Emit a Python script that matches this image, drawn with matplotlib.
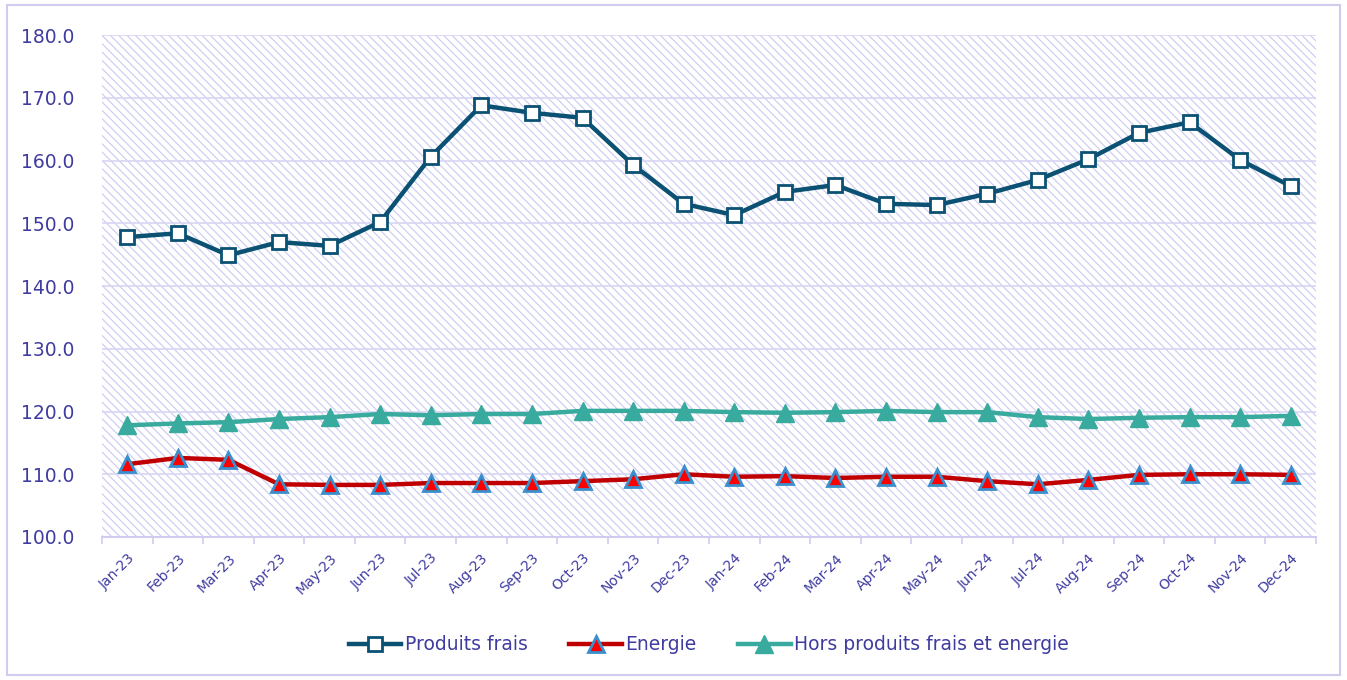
import matplotlib.pyplot as plt
from matplotlib.patches import Rectangle

months = ['Jan-23', 'Feb-23', 'Mar-23', 'Apr-23', 'May-23', 'Jun-23', 'Jul-23', 'Aug-23',
          'Sep-23', 'Oct-23', 'Nov-23', 'Dec-23', 'Jan-24', 'Feb-24', 'Mar-24', 'Apr-24',
          'May-24', 'Jun-24', 'Jul-24', 'Aug-24', 'Sep-24', 'Oct-24', 'Nov-24', 'Dec-24']

produits_frais = [147.8, 148.4, 144.9, 147.0, 146.4, 150.2, 160.6, 168.8, 167.6, 166.8, 159.3, 153.1,
                  151.3, 155.0, 156.1, 153.1, 152.9, 154.7, 156.9, 160.2, 164.4, 166.1, 160.1, 155.9]
energie = [111.6, 112.6, 112.3, 108.4, 108.3, 108.3, 108.6, 108.6, 108.6, 108.9, 109.2, 110.0,
           109.6, 109.7, 109.4, 109.6, 109.6, 108.9, 108.4, 109.1, 109.9, 110.0, 110.0, 109.9]
hors_pf_energie = [117.8, 118.1, 118.3, 118.8, 119.1, 119.6, 119.4, 119.6, 119.6, 120.1, 120.1, 120.1,
                   119.9, 119.8, 119.9, 120.1, 119.9, 119.9, 119.1, 118.8, 119.0, 119.1, 119.1, 119.3]

yticks = [100, 110, 120, 130, 140, 150, 160, 170, 180]

txt = '#3F3BA0'
lav = '#CFCCF0'

plt.rcParams['hatch.linewidth'] = 0.8

fig = plt.figure(figsize=(13.47, 6.8), dpi=100)
ax = fig.add_axes([0.0757, 0.2103, 0.9013, 0.7382])

# hatched plot area
ax.add_patch(Rectangle((0, 0), 1, 1, transform=ax.transAxes, facecolor='white',
                       edgecolor='#CBC9F2', hatch='\\\\\\\\', lw=0, zorder=0))

x = list(range(len(months)))
ax.plot(x, produits_frais, color='#0B5173', lw=3.2, marker='s', ms=10,
        mfc='white', mec='#0B5173', mew=2, label='Produits frais', zorder=3)
ax.plot(x, energie, color='#C00000', lw=3.2, marker='^', ms=11,
        mfc='#FF0000', mec='#3A8FCC', mew=2, label='Energie', zorder=3)
ax.plot(x, hors_pf_energie, color='#38AA9E', lw=3.2, marker='^', ms=13,
        mfc='#38AA9E', mec='#38AA9E', mew=1, label='Hors produits frais et energie', zorder=3)

ax.set_xlim(-0.5, len(months) - 0.5)
ax.set_ylim(100, 180)
ax.set_yticks(yticks)
ax.set_yticklabels([f'{v:.1f}' for v in yticks])
ax.yaxis.grid(True, color='#D8D6F3', lw=1.2, zorder=1)
ax.set_axisbelow(True)

ax.set_xticks([i - 0.5 for i in range(len(months) + 1)])
ax.set_xticklabels([])
ax.set_xticks(x, minor=True)
ax.set_xticklabels(months, minor=True, rotation=45, ha='right', va='top',
                   rotation_mode='anchor', fontsize=10, color=txt)
ax.tick_params(axis='x', which='major', length=5, color=lav, width=1.2)
ax.tick_params(axis='x', which='minor', length=0, pad=10)
ax.tick_params(axis='y', length=0, pad=20, labelsize=13.5, labelcolor=txt)

for s in ['top', 'right', 'left']:
    ax.spines[s].set_visible(False)
ax.spines['bottom'].set_color(lav)
ax.spines['bottom'].set_linewidth(1.5)

leg = ax.legend(loc='center', bbox_to_anchor=(0.5, -0.215), ncol=3, frameon=False,
                fontsize=13.5, handlelength=2.8, handletextpad=0.2, columnspacing=2.2)
for t in leg.get_texts():
    t.set_color(txt)

# outer border
fig.patches.append(Rectangle((0.005, 0.008), 0.99, 0.985, transform=fig.transFigure,
                             fill=False, edgecolor=lav, lw=1.5))

fig.savefig('out.png', dpi=100)
